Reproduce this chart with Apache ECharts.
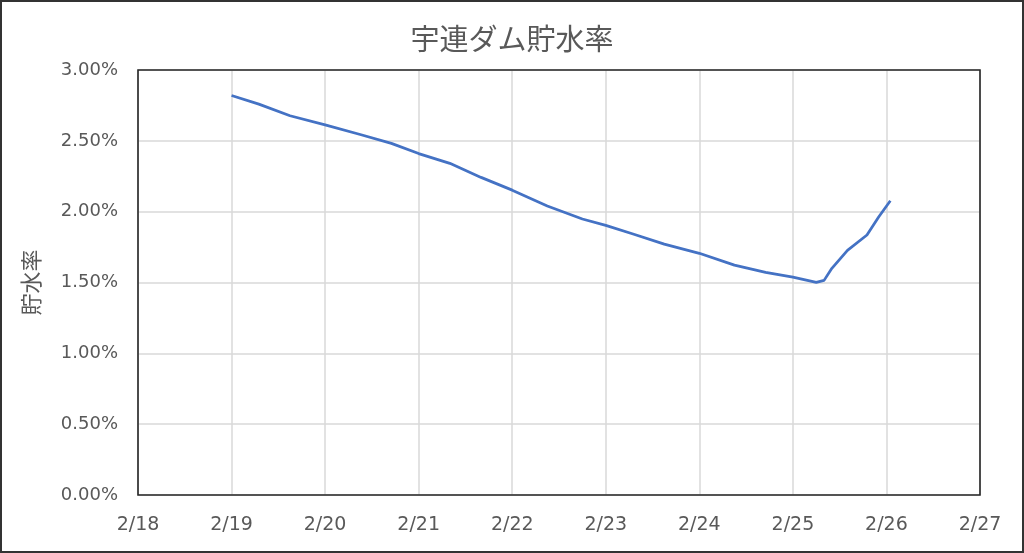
<!DOCTYPE html>
<html>
<head>
<meta charset="utf-8">
<script src="https://cdn.jsdelivr.net/npm/echarts@6/dist/echarts.min.js"></script>
<style>
html,body{margin:0;padding:0;background:#fff;}
#c{width:1024px;height:553px;}
</style>
</head>
<body>
<div id="c"></div>
<script>
// Chart text
const chartTitle = '宇連ダム貯水率';
const yAxisName = '貯水率';
// X tick labels (days of February)
const xTickLabels = ['2/18','2/19','2/20','2/21','2/22','2/23','2/24','2/25','2/26','2/27'];
// Observation times (month/day hh:mm)
const times = [
  '2/19 00:00','2/19 07:00','2/19 15:00',
  '2/20 00:00','2/20 09:00','2/20 17:00',
  '2/21 00:00','2/21 08:00','2/21 16:00',
  '2/22 00:00','2/22 09:00','2/22 18:00',
  '2/23 00:00','2/23 07:00','2/23 15:00',
  '2/24 00:00','2/24 09:00','2/24 17:00',
  '2/25 00:00','2/25 02:00','2/25 06:00','2/25 08:00','2/25 10:00',
  '2/25 14:00','2/25 19:00','2/25 22:00','2/26 01:00'
];
// Storage rate (%)
const rates = [
  2.820, 2.759, 2.677,
  2.613, 2.545, 2.482,
  2.410, 2.341, 2.242,
  2.152, 2.040, 1.948,
  1.903, 1.842, 1.771,
  1.706, 1.623, 1.572,
  1.538, 1.526, 1.501, 1.515, 1.600,
  1.727, 1.835, 1.962, 2.077
];

function toDayPos(t) {
  const [md, hm] = t.split(' ');
  const day = parseInt(md.split('/')[1], 10);
  const [h, m] = hm.split(':').map(Number);
  return (day - 18) + (h + m / 60) / 24;
}
const seriesData = times.map((t, i) => [toDayPos(t), rates[i]]);

const textColor = '#595959';
const G = { left: 138, right: 44, top: 70, bottom: 58 };
const chart = echarts.init(document.getElementById('c'));
chart.setOption({
  animation: false,
  backgroundColor: '#fff',
  title: {
    text: chartTitle,
    left: 'center',
    top: 19,
    textStyle: { fontFamily: 'Noto Sans CJK JP', fontSize: 29, fontWeight: 'normal', color: textColor }
  },
  graphic: [{
    type: 'rect',
    shape: { x: 1, y: 1, width: 1022, height: 551 },
    style: { fill: 'none', stroke: '#333', lineWidth: 2 },
    z: 100
  }, {
    type: 'rect',
    shape: { x: G.left, y: G.top, width: 1024 - G.left - G.right, height: 553 - G.top - G.bottom },
    style: { fill: 'none', stroke: '#262626', lineWidth: 1.6 },
    z: 90
  }],
  grid: {
    left: G.left, right: G.right, top: G.top, bottom: G.bottom,
    show: false, containLabel: false
  },
  xAxis: {
    type: 'value',
    min: 0, max: 9, interval: 1,
    axisLine: { show: false },
    axisTick: { show: false },
    splitLine: { show: true, lineStyle: { color: '#d9d9d9', width: 1.5 } },
    axisLabel: {
      margin: 21,
      color: textColor,
      fontFamily: 'DejaVu Sans',
      fontSize: 19,
      formatter: v => xTickLabels[Math.round(v)]
    }
  },
  yAxis: {
    type: 'value',
    min: 0, max: 3, interval: 0.5,
    name: yAxisName,
    nameLocation: 'middle',
    nameGap: 96,
    nameRotate: 90,
    nameTextStyle: { fontFamily: 'Noto Sans CJK JP', fontSize: 22, color: textColor },
    axisLine: { show: false },
    axisTick: { show: false },
    splitLine: { show: true, lineStyle: { color: '#d9d9d9', width: 1.5 } },
    axisLabel: {
      margin: 20,
      color: textColor,
      fontFamily: 'DejaVu Sans',
      fontSize: 18,
      formatter: v => v.toFixed(2) + '%'
    }
  },
  series: [{
    type: 'line',
    data: seriesData,
    showSymbol: false,
    smooth: false,
    lineStyle: { color: '#4472C4', width: 2.75 },
    itemStyle: { color: '#4472C4' }
  }]
});
</script>
</body>
</html>
